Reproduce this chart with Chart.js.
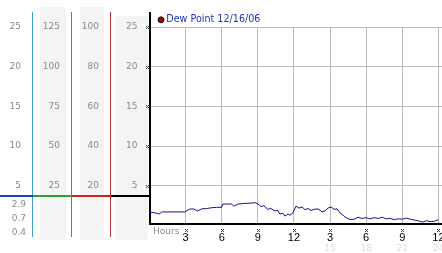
<!DOCTYPE html>
<html>
<head>
<meta charset="utf-8">
<script src="https://cdn.jsdelivr.net/npm/chart.js@4"></script>
<style>
  body { margin: 0; background: #fff; }
  canvas { display: block; }
</style>
</head>
<body>
<canvas id="chart" width="442" height="253"></canvas>
<script>
// hours since midnight, and dew point readings
const hours = [0, 0.5, 0.83, 1, 1.5, 2, 2.5, 2.92, 3.33, 3.67, 4, 4.33, 4.75, 5.17, 5.58, 6, 6.08, 6.5, 6.83, 7,
  7.33, 7.83, 8.33, 8.75, 9, 9.25, 9.5, 9.83, 10.08, 10.42, 10.67, 10.83, 11.08, 11.25, 11.5, 11.67, 11.92,
  12.17, 12.42, 12.67, 12.92, 13.17, 13.42, 13.67, 14, 14.33, 14.58, 14.83, 15.08, 15.33, 15.58, 15.83,
  16.08, 16.33, 16.67, 17, 17.33, 17.67, 18, 18.33, 18.67, 19, 19.33, 19.67, 20, 20.33, 20.67, 21, 21.33,
  21.67, 22, 22.33, 22.67, 23, 23.33, 23.67, 24];
const dewPoint = [1.69, 1.6, 1.45, 1.72, 1.72, 1.72, 1.72, 1.72, 2.07, 2.1, 1.85, 2.1, 2.15, 2.25, 2.3, 2.3, 2.7,
  2.72, 2.7, 2.45, 2.7, 2.78, 2.82, 2.88, 2.75, 2.4, 2.5, 2.05, 2.15, 1.85, 1.9, 1.45, 1.55, 1.2, 1.45, 1.3, 1.6,
  2.45, 2.2, 2.35, 2.0, 2.15, 1.9, 2.05, 2.1, 1.75, 1.85, 2.2, 2.35, 2.05, 2.1, 1.6,
  1.3, 1.0, 0.75, 0.8, 1.05, 0.9, 1.0, 0.85, 1.0, 0.9, 1.05, 0.85, 0.9, 0.75, 0.85, 0.8, 0.95,
  0.8, 0.7, 0.6, 0.45, 0.6, 0.5, 0.55, 0.75];

const yTicks = [5, 10, 15, 20, 25];
const col2Ticks = [25, 50, 75, 100, 125];
const col3Ticks = [20, 40, 60, 80, 100];
const xTickHours = [3, 6, 9, 12, 15, 18, 21, 24];
const xTickLabels = ['3', '6', '9', '12', '3', '6', '9', '12'];
const lateHours = [15, 18, 21, 24];
const lateHourLabels = ['15', '18', '21', '24'];
const currentReadings = ['2.9', '0.7', '0.4'];
const markerLevel = 3.7;

const grayText = '#8a8a8a';
const leftFont = { family: 'DejaVu Sans', size: 9 };

function fixedTicks(values) {
  return scale => { scale.ticks = values.map(v => ({ value: v })); };
}

// pin an axis to a fixed size and drop the label overflow padding
function pinSize(key, size) {
  return s => {
    s[key] = size;
    s.paddingLeft = s.paddingRight = s.paddingTop = s.paddingBottom = 0;
  };
}

function leftAxis(weight, max, ticks, width) {
  return {
    position: 'left', weight: weight, min: max / 125, max: max,
    afterBuildTicks: fixedTicks(ticks),
    afterFit: pinSize('width', width),
    grid: { display: false, drawTicks: false },
    border: { display: false },
    ticks: { color: grayText, font: leftFont, padding: 12 }
  };
}

// tiny "x" tick glyph like the original
function tinyMark(ctx, cx, cy) {
  ctx.fillStyle = '#444';
  [[-1, -1], [1, -1], [0, 0], [-1, 1], [1, 1]].forEach(p => ctx.fillRect(Math.round(cx) + p[0], Math.round(cy) + p[1], 1, 1));
}

const panelDecor = {
  id: 'panelDecor',
  beforeDraw(chart) {
    const ctx = chart.ctx;
    const s = chart.scales;
    ctx.save();
    ctx.fillStyle = '#fff';
    ctx.fillRect(0, 0, chart.width, chart.height);
    ctx.fillStyle = '#f4f4f4';
    ctx.fillRect(s.col2.left + 7, 7, s.col2.width - 13, 233);
    ctx.fillRect(s.col3.left + 8, 7, s.col3.width - 15, 233);
    ctx.fillRect(s.y.left + 4, 16, s.y.width - 6, 224);
    ctx.restore();
  },
  afterDraw(chart) {
    const ctx = chart.ctx;
    const s = chart.scales;
    const area = chart.chartArea;
    ctx.save();
    // coloured column dividers
    [[s.col1, '#3aa0cc'], [s.col2, '#3aa03a'], [s.col3, '#b83030']].forEach(([sc, c]) => {
      ctx.fillStyle = c;
      ctx.fillRect(Math.round(sc.right) - 1, 12, 1, 225);
    });
    ctx.fillStyle = '#000';
    ctx.fillRect(Math.round(s.y.right) - 1, 12, 2, area.top - 12);
    // level bar across the columns
    const ly = Math.round(s.y.getPixelForValue(markerLevel));
    [[0, s.col1.right, '#1e40d0'], [s.col1.right, s.col2.right, '#30a030'],
     [s.col2.right, s.col3.right, '#d82020'], [s.col3.right, s.y.right, '#000']].forEach(([a, b, c]) => {
      ctx.fillStyle = c;
      ctx.fillRect(a, ly - 1, b - a, 2);
    });
    // current readings under the bar
    ctx.fillStyle = grayText;
    ctx.font = '9px "DejaVu Sans"';
    ctx.textAlign = 'right';
    ctx.textBaseline = 'middle';
    currentReadings.forEach((t, i) => ctx.fillText(t, 26, 205 + i * 14));
    // axis name
    ctx.textAlign = 'left';
    ctx.fillText('Hours', 153, 232);
    // little tick glyphs
    yTicks.forEach(v => tinyMark(ctx, s.y.right - 3, s.y.getPixelForValue(v)));
    xTickHours.forEach(h => tinyMark(ctx, s.x.getPixelForValue(h), 230));
    ctx.restore();
  }
};

new Chart(document.getElementById('chart'), {
  type: 'line',
  data: {
    labels: hours,
    datasets: [{
      label: 'Dew Point 12/16/06',
      data: hours.map((h, i) => ({ x: h, y: dewPoint[i] })),
      borderColor: '#12128c',
      backgroundColor: '#8a1111',
      borderWidth: 1,
      pointRadius: 0,
      tension: 0
    }]
  },
  options: {
    responsive: false,
    animation: false,
    devicePixelRatio: 1,
    layout: { padding: { top: 4, left: 0, right: 0, bottom: 0 } },
    plugins: {
      tooltip: { enabled: false },
      legend: {
        position: 'top',
        align: 'start',
        fullSize: false,
        maxHeight: 23,
        labels: {
          usePointStyle: true,
          pointStyle: 'circle',
          boxWidth: 1,
          boxHeight: 4.2,
          padding: 11,
          color: '#1c34b8',
          font: { family: 'DejaVu Sans', size: 9.6 },
          generateLabels: chart => Chart.defaults.plugins.legend.labels.generateLabels(chart).map(l => {
            l.fillStyle = '#8a1111';
            l.strokeStyle = '#300';
            l.lineWidth = 1;
            return l;
          })
        }
      }
    },
    scales: {
      x: {
        type: 'linear', position: 'bottom', weight: 1, min: 0, max: 24.3,
        afterBuildTicks: fixedTicks(xTickHours),
        afterFit: pinSize('height', 19),
        grid: { color: '#bbbbbb', drawTicks: false },
        border: { color: '#000', width: 2 },
        ticks: {
          color: '#000', font: { family: 'Liberation Sans', size: 11 }, padding: 7,
          autoSkip: false, maxRotation: 0,
          callback: v => xTickLabels[xTickHours.indexOf(v)]
        }
      },
      x2: {
        type: 'linear', position: 'bottom', weight: 2, min: 0, max: 24.3,
        afterBuildTicks: fixedTicks(lateHours),
        afterFit: pinSize('height', 10),
        grid: { display: false, drawTicks: false },
        border: { display: false },
        ticks: {
          color: '#dcdcdc', font: { family: 'DejaVu Sans', size: 9 }, padding: 0,
          autoSkip: false, maxRotation: 0,
          callback: v => lateHourLabels[lateHours.indexOf(v)]
        }
      },
      col1: leftAxis(4, 25, yTicks, 33),
      col2: leftAxis(3, 125, col2Ticks, 39),
      col3: leftAxis(2, 100, col3Ticks, 39),
      y: {
        position: 'left', weight: 1, min: 0.2, max: 25,
        afterBuildTicks: fixedTicks(yTicks),
        afterFit: pinSize('width', 38.5),
        grid: { color: '#bbbbbb', drawTicks: false },
        border: { color: '#000', width: 2 },
        ticks: { color: grayText, font: leftFont, padding: 12 }
      }
    }
  },
  plugins: [panelDecor]
});
</script>
</body>
</html>
